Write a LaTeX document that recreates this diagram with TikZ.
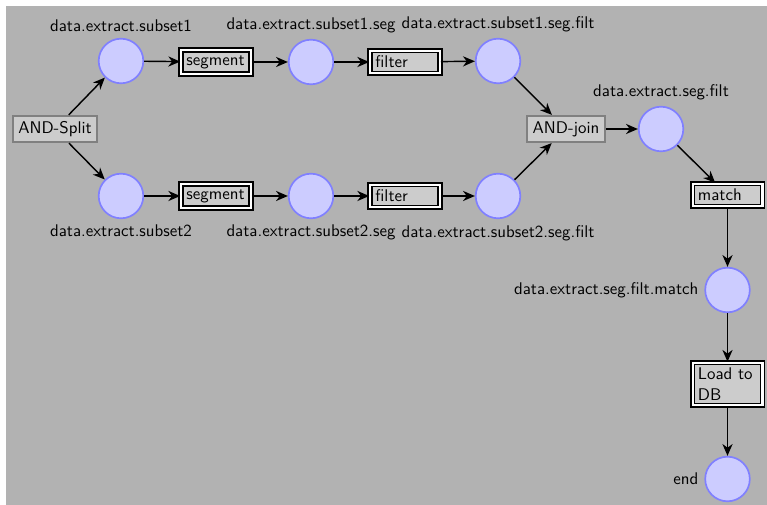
\documentclass[tikz,border=0pt]{standalone}
\usetikzlibrary{arrows.meta}
\begin{document}
\begin{tikzpicture}[x=0.5917pt, y=-0.5917pt,
  every node/.style={font=\sffamily},
  place/.style={circle, draw=blue!50, fill=blue!20, line width=1pt, minimum size=26.4pt, inner sep=0pt},
  trans/.style={draw=black, double=white, double distance=1.2pt, line width=1pt, fill=black!20, text width=35pt, align=left, inner sep=3.2pt},
  gate/.style={draw=black!50, fill=black!20, line width=1pt},
  conn/.style={-{Stealth[length=7pt,width=6pt,inset=2.2pt]}, line width=0.85pt},
  lbla/.style={label distance=2.5pt},
  lblb/.style={label distance=1.5pt}]
\useasboundingbox (0,0) rectangle (767,505);
\fill[black!30] (6,6) rectangle (767,505);

\node[gate] (split) at (55,129) {AND-Split};
\node[place, lbla, label=above:data.extract.subset1] (s1) at (121,61) {};
\node[place, lblb, label=below:data.extract.subset2] (s2) at (121,196) {};
\node[trans] (seg1) at (216,62) {segment};
\node[trans] (seg2) at (216,196) {segment};
\node[place, lbla, label=above:data.extract.subset1.seg] (cs1) at (311,62) {};
\node[place, lblb, label=below:data.extract.subset2.seg] (cs2) at (311,196) {};
\node[trans] (f1) at (405,62) {filter};
\node[trans] (f2) at (405,196) {filter};
\node[place, lbla, label=above:data.extract.subset1.seg.filt] (cf1) at (498,61) {};
\node[place, lblb, label=below:data.extract.subset2.seg.filt] (cf2) at (498,196) {};
\node[gate] (join) at (566,129) {AND-join};
\node[place, lbla, label=above:data.extract.seg.filt] (csf) at (661,129) {};
\node[trans] (match) at (727.5,195) {match};
\node[place, lblb, label=left:data.extract.seg.filt.match] (cm) at (727.5,290) {};
\node[trans] (load) at (727.5,384) {Load to DB};
\node[place, lblb, label=left:end] (end) at (727.5,479) {};

\draw[conn] (split) -- (s1);
\draw[conn] (split) -- (s2);
\draw[conn] (s1) -- (seg1);
\draw[conn] (s2) -- (seg2);
\draw[conn] (seg1) -- (cs1);
\draw[conn] (seg2) -- (cs2);
\draw[conn] (cs1) -- (f1);
\draw[conn] (cs2) -- (f2);
\draw[conn] (f1) -- (cf1);
\draw[conn] (f2) -- (cf2);
\draw[conn] (cf1) -- (join);
\draw[conn] (cf2) -- (join);
\draw[conn] (join) -- (csf);
\draw[conn] (csf) -- (match);
\draw[conn] (match) -- (cm);
\draw[conn] (cm) -- (load);
\draw[conn] (load) -- (end);
\end{tikzpicture}
\end{document}
